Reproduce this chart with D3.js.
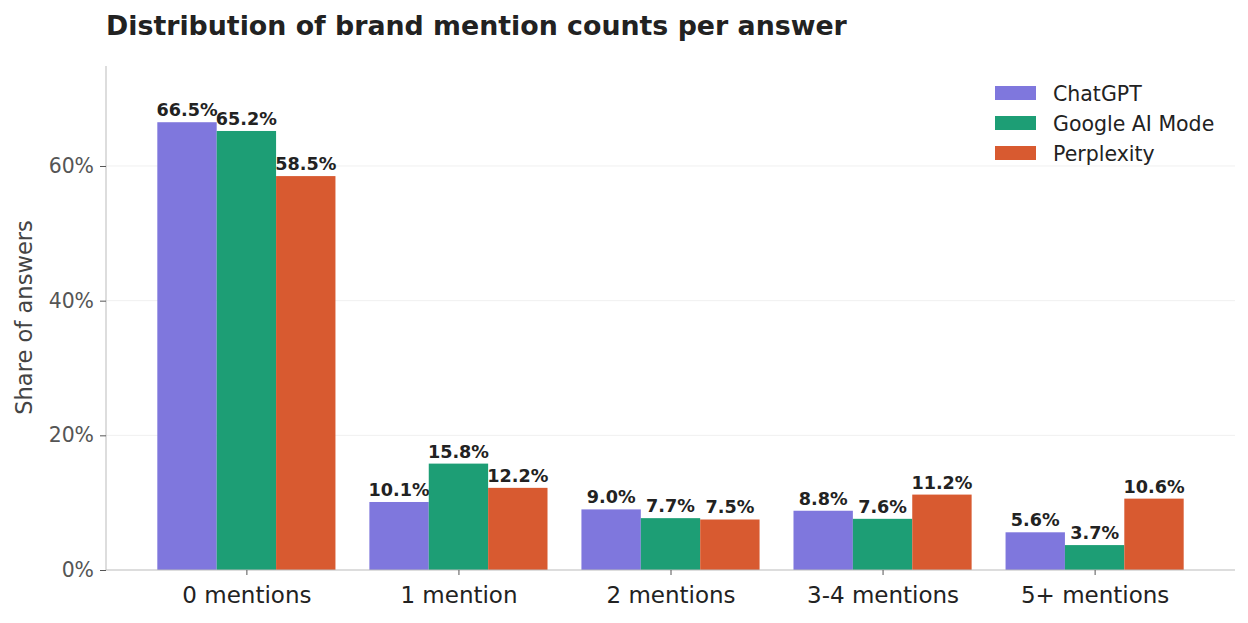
<!DOCTYPE html>
<html><head><meta charset="utf-8">
<script src="https://cdn.jsdelivr.net/npm/d3@7"></script>
<style>body{margin:0;background:#fff;} svg{display:block;font-family:"DejaVu Sans",sans-serif;}</style>
</head><body>
<script>
const categories = ["0 mentions","1 mention","2 mentions","3-4 mentions","5+ mentions"];
const seriesNames = ["ChatGPT","Google AI Mode","Perplexity"];
const chatgpt = [66.5,10.1,9.0,8.8,5.6];
const google = [65.2,15.8,7.7,7.6,3.7];
const perplexity = [58.5,12.2,7.5,11.2,10.6];
const yTicks = [0,20,40,60];
const colors = ["#7f77dd","#1d9e75","#d85a30"];

const W=1248,H=623;
const m={l:106,r:13,t:66,b:53};
const svg=d3.select("body").append("svg").attr("width",W).attr("height",H);
const x=d3.scaleLinear().domain([-0.662,4.662]).range([m.l,W-m.r]);
const y=d3.scaleLinear().domain([0,74.85]).range([H-m.b,m.t]);
const series=[chatgpt,google,perplexity];
const bw=0.28;

// grid
svg.append("g").selectAll("line").data(yTicks.filter(d=>d>0)).join("line")
 .attr("x1",m.l).attr("x2",W-m.r).attr("y1",d=>y(d)).attr("y2",d=>y(d))
 .attr("stroke","#f0f0f0").attr("stroke-width",1);

series.forEach((vals,si)=>{
  const g=svg.append("g");
  g.selectAll("rect").data(vals).join("rect")
   .attr("x",(d,i)=>x(i+(si-1)*bw-bw/2)).attr("width",x(bw)-x(0))
   .attr("y",d=>y(d)).attr("height",d=>y(0)-y(d)).attr("fill",colors[si]);
  g.selectAll("text").data(vals).join("text")
   .attr("x",(d,i)=>x(i+(si-1)*bw)).attr("y",d=>y(d)-6)
   .attr("text-anchor","middle").attr("font-size",17.6).attr("font-weight","bold").attr("fill","#222")
   .text(d=>d.toFixed(1)+"%");
});

// axes
const ya=d3.axisLeft(y).tickValues(yTicks).tickFormat(d=>d+"%").tickSize(6).tickPadding(6);
const yg=svg.append("g").attr("transform",`translate(${m.l},0)`).call(ya);
yg.select(".domain").attr("stroke","#bbb").attr("d",`M0,${y(0)}V${m.t}`);
yg.selectAll(".tick line").attr("stroke","#555");
yg.selectAll(".tick text").attr("font-size",20.4).attr("fill","#555").attr("font-family","DejaVu Sans");

const xa=d3.axisBottom(x).tickValues(d3.range(categories.length)).tickFormat(i=>categories[i]).tickSize(5).tickPadding(12);
const xg=svg.append("g").attr("transform",`translate(0,${y(0)})`).call(xa);
xg.select(".domain").attr("stroke","#bbb").attr("d",`M${m.l},0H${W-m.r}`);
xg.selectAll(".tick line").attr("stroke","#555");
xg.selectAll(".tick text").attr("font-size",23).attr("fill","#222").attr("font-family","DejaVu Sans");

svg.append("text").attr("transform",`translate(32,${y(37.5)}) rotate(-90)`).attr("text-anchor","middle")
 .attr("font-size",22.6).attr("fill","#444").text("Share of answers");

svg.append("text").attr("x",106).attr("y",35).attr("font-size",26.8).attr("font-weight","bold").attr("fill","#222")
 .text("Distribution of brand mention counts per answer");

// legend
const lg=svg.append("g").attr("transform","translate(995,86)");
seriesNames.forEach((n,i)=>{
  lg.append("rect").attr("x",0).attr("y",i*30).attr("width",41).attr("height",14).attr("fill",colors[i]);
  lg.append("text").attr("x",58).attr("y",i*30+14.5).attr("font-size",20.5).attr("fill","#222").text(n);
});
</script>
</body></html>
